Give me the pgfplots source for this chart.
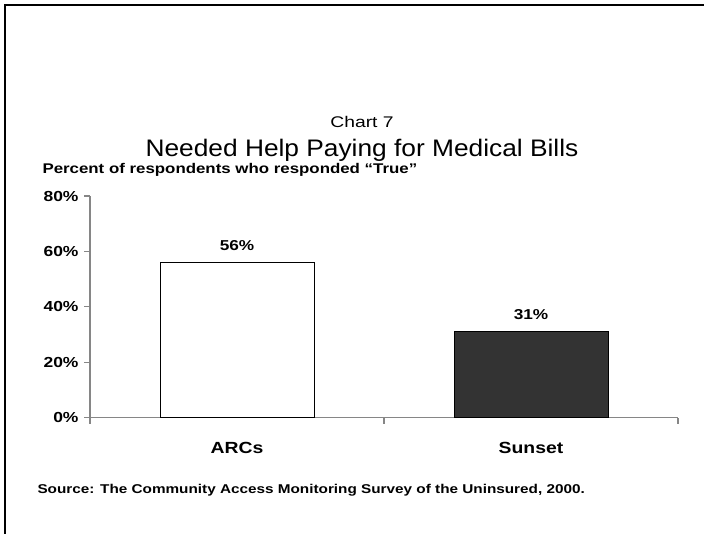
\documentclass[border=0pt]{standalone}
\usepackage{pgfplots}
\pgfplotsset{compat=1.18}
\usepackage{fontspec}
\setmainfont{Liberation Sans}
\newfontfamily\wide[FakeStretch=1.2]{Liberation Sans}
\newfontfamily\widetitle[FakeStretch=1.25]{Liberation Sans}
\newfontfamily\maintitle[FakeStretch=1.1]{Liberation Sans}

\definecolor{axisgray}{HTML}{868686}
\definecolor{bardark}{HTML}{333333}

\begin{document}
\begin{tikzpicture}[x=1bp,y=1bp]
\useasboundingbox (0,0) rectangle (704,534);
% frame (left and top only)
\draw[line width=2bp] (4.5,0) -- (4.5,529) -- (704,529);

\begin{axis}[
    at={(90bp,116.3bp)}, anchor=south west,
    scale only axis,
    width=588bp, height=221.7bp,
    xmin=0, xmax=2,
    ymin=0, ymax=80,
    axis x line*=bottom,
    axis y line*=left,
    axis line style={axisgray, line width=1.2bp},
    tick style={axisgray, line width=1.2bp},
    tick align=outside,
    xtick={0.5,1.5},
    xticklabels={ARCs,Sunset},
    major x tick style={draw=none},
    minor xtick={0,1,2},
    minor tick length=6bp,
    major tick length=6bp,
    xticklabel style={font=\wide\fontsize{16.2}{18}\selectfont\bfseries, yshift=-15bp},
    ytick={0,20,40,60,80},
    yticklabels={0\%,20\%,40\%,60\%,80\%},
    yticklabel style={font=\wide\fontsize{14.6}{17}\selectfont\bfseries, xshift=-2bp},
    /pgf/number format/assume math mode=true,
    nodes near coords={\pgfmathprintnumber{\pgfplotspointmeta}\%},
    every node near coord/.append style={font=\wide\fontsize{14.4}{17}\selectfont\bfseries, yshift=8bp},
    clip=false,
]
\addplot[ybar, bar width=154bp, fill=white, draw=black, line width=0.8bp] coordinates {(0.5,56)};
\addplot[ybar, bar width=154bp, fill=bardark, draw=black, line width=0.8bp] coordinates {(1.5,31)};
\end{axis}

\node at (362,412) {\widetitle\fontsize{15.5}{18}\selectfont Chart 7};
\node at (362,384) {\maintitle\fontsize{24}{28}\selectfont Needed Help Paying for Medical Bills};
\node[anchor=west] at (39,364) {\wide\fontsize{14.1}{16}\selectfont\bfseries Percent of respondents who responded “True”};
\node[anchor=west] at (34,44) {\wide\fontsize{12.8}{15}\selectfont\bfseries Source: The Community Access Monitoring Survey of the Uninsured, 2000.};
\end{tikzpicture}
\end{document}
